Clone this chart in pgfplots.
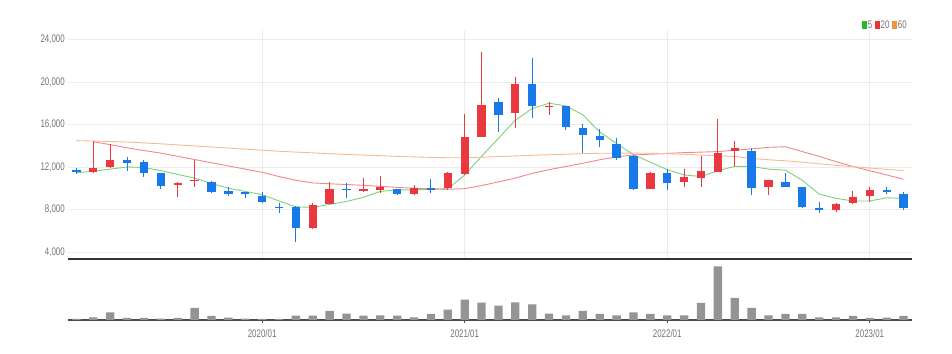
\documentclass[border=0pt]{standalone}
\usepackage{fontspec}
\setmainfont{Liberation Sans}[FakeStretch=0.72]
\usepackage{pgfplots}
\pgfplotsset{compat=1.18}
\usepackage{pgfplotstable}

\definecolor{upred}{RGB}{233,56,62}
\definecolor{dnblue}{RGB}{24,122,232}
\definecolor{maA}{RGB}{125,208,125}
\definecolor{maB}{RGB}{240,135,140}
\definecolor{maC}{RGB}{245,188,145}
\definecolor{lgA}{RGB}{40,185,40}
\definecolor{lgB}{RGB}{235,50,55}
\definecolor{lgC}{RGB}{240,150,60}
\definecolor{gridc}{RGB}{236,236,236}
\definecolor{lab}{RGB}{115,115,115}

% up candles (red): i open high low close
\pgfplotstableread{
i open high low close
1 11550 14400 11450 11900
2 12000 14150 11950 12700
6 10300 10550 9200 10450
7 10650 12700 10150 10780
14 6250 8600 6200 8450
15 8550 10600 8500 9950
17 9780 11000 9600 9900
18 9800 11150 9550 10100
20 9450 10300 9400 10000
22 10000 11500 9800 11400
23 11300 17000 11200 14800
24 14850 22800 14800 17850
26 17050 20450 15650 19800
28 17650 18150 16850 17750
34 9950 11550 9900 11450
36 10550 11850 10100 11100
37 11000 13000 10100 11600
38 11550 16500 11500 13300
39 13500 14450 12100 13750
41 10100 10800 9350 10750
45 7950 8600 7800 8550
46 8600 9750 8550 9200
47 9300 10150 8750 9800
}\up

% down candles (blue)
\pgfplotstableread{
i open high low close
0 11750 11900 11300 11500
3 12650 12900 11600 12350
4 12450 12650 11050 11400
5 11400 11450 9900 10250
8 10550 10700 9550 9650
9 9700 10150 9300 9450
10 9600 9650 9050 9480
11 9300 9600 8600 8750
12 8250 8650 7650 8100
13 8200 8300 4900 6250
16 9950 10450 9050 9800
19 9900 9950 9350 9450
21 10000 10850 9550 9850
25 18150 18450 15300 16900
27 19850 22300 16600 17700
29 17700 17750 15500 15750
30 15700 16000 13350 15000
31 14950 15550 13900 14500
32 14200 14700 12650 12850
33 13000 13100 9850 9950
35 11450 11850 9850 10450
40 13550 13750 9350 10050
42 10600 11450 10100 10150
43 10100 10150 8150 8250
44 8150 8750 7650 7950
48 9800 10150 9450 9600
49 9500 9650 7950 8150
}\down

% moving averages and volume
\pgfplotstableread{
i ma5 ma20 ma60 vol
0 11450 nan 14480 10
1 11600 14380 14440 27
2 11800 14100 14400 77
3 12000 13800 14350 20
4 11950 13550 14270 20
5 11650 13300 14180 13
6 11300 13000 14080 20
7 10950 12700 13980 120
8 10450 12400 13880 40
9 10000 12100 13780 23
10 9700 11800 13680 13
11 9400 11500 13580 10
12 8800 11100 13480 10
13 8250 10750 13400 43
14 8200 10500 13330 43
15 8480 10420 13250 90
16 8750 10350 13180 63
17 9150 10270 13120 43
18 9700 10180 13060 47
19 9850 10080 13000 43
20 9850 10000 12950 27
21 9900 9950 12900 60
22 9950 9900 12870 103
23 11250 9960 12870 203
24 13000 10250 12920 173
25 14700 10600 12980 143
26 16400 10950 13040 177
27 17500 11400 13100 157
28 18000 11750 13150 63
29 17750 12050 13200 47
30 16900 12350 13250 90
31 15300 12680 13290 60
32 14200 12950 13300 47
33 13150 13130 13300 77
34 12450 13200 13290 60
35 11750 13280 13250 47
36 11250 13350 13200 47
37 11100 13400 13120 170
38 11650 13450 13050 537
39 12050 13580 12990 220
40 12050 13700 12800 120
41 11800 13850 12680 47
42 11700 13900 12580 60
43 10750 13450 12450 60
44 9450 13000 12300 27
45 9050 12500 12150 27
46 8800 12050 12030 40
47 8800 11650 11900 20
48 9100 11250 11780 23
49 9050 10850 11650 40
}\ma

\pgfplotsset{
  candle/.style={forget plot, only marks, mark size=0pt,
    mark options={draw=none, fill=none},
    error bars/.cd, y dir=minus, y explicit, error mark=none,
    error bar style={line width=#1}},
}

\begin{document}
\begin{tikzpicture}
\useasboundingbox (0,0) rectangle (952pt,353pt);
% price panel
\begin{axis}[
  at={(68pt,94pt)}, anchor=south west, scale only axis,
  width=844pt, height=229pt,
  xmin=-0.5, xmax=49.5, ymin=3341, ymax=24890,
  axis x line*=bottom, axis y line*=left,
  x axis line style={line width=2pt, draw=black!80, -},
  y axis line style={draw=none},
  xtick={11,23,35,47}, xticklabels={},
  ytick={4000,8000,12000,16000,20000,24000},
  scaled y ticks=false,
  xmajorgrids, ymajorgrids,
  grid style={gridc, line width=0.8pt},
  tick style={draw=none}, major tick length=0pt,
  /pgf/number format/1000 sep={,},
  /pgf/number format/assume math mode=true,
  yticklabel style={font=\fontsize{11}{11}\selectfont, text=lab, inner sep=1pt, xshift=-2pt},
  legend columns=3,
  legend style={at={(1,1)}, anchor=east, xshift=-4pt, yshift=5pt, draw=none, fill=none,
    font=\fontsize{11}{11}\selectfont, text=lab, inner sep=0pt,
    /tikz/every even column/.append style={column sep=2pt},
    nodes={inner sep=1pt}},
]
\addplot[maA, line width=0.9pt, legend image code/.code={\fill[lgA] (0pt,-3.3pt) rectangle (3.6pt,3.3pt);}] table[x=i, y=ma5] {\ma};
\addlegendentry{5}
\addplot[maB, line width=0.9pt, unbounded coords=jump, legend image code/.code={\fill[lgB] (0pt,-3.3pt) rectangle (3.6pt,3.3pt);}] table[x=i, y=ma20] {\ma};
\addlegendentry{20}
\addplot[maC, line width=0.9pt, legend image code/.code={\fill[lgC] (0pt,-3.3pt) rectangle (3.6pt,3.3pt);}] table[x=i, y=ma60] {\ma};
\addlegendentry{60}
% wicks
\addplot[upred, candle=1pt]
  table[x=i, y=high, y error minus expr=\thisrow{high}-\thisrow{low}] {\up};
\addplot[dnblue, candle=1pt]
  table[x=i, y=high, y error minus expr=\thisrow{high}-\thisrow{low}] {\down};
% bodies
\addplot[upred, candle=8.3pt]
  table[x=i, y=close, y error minus expr=\thisrow{close}-\thisrow{open}] {\up};
\addplot[dnblue, candle=8.3pt]
  table[x=i, y=open, y error minus expr=\thisrow{open}-\thisrow{close}] {\down};
\end{axis}
% volume panel
\begin{axis}[
  at={(68pt,33pt)}, anchor=south west, scale only axis,
  width=844pt, height=60pt,
  xmin=-0.5, xmax=49.5, ymin=0, ymax=600,
  axis x line*=bottom, axis y line=none, ytick=\empty,
  x axis line style={line width=1.6pt, draw=black!70, -},
  xtick={11,23,35,47},
  xticklabels={2020/01,2021/01,2022/01,2023/01},
  tick align=outside, major tick length=3pt,
  xtick style={draw=black!70, line width=1pt},
  xticklabel style={font=\fontsize{11}{11}\selectfont, text=lab, yshift=-3pt},
]
\addplot[ybar, bar width=8.3pt, fill=black!42, draw=none] table[x=i, y=vol] {\ma};
\end{axis}
\end{tikzpicture}
\end{document}
